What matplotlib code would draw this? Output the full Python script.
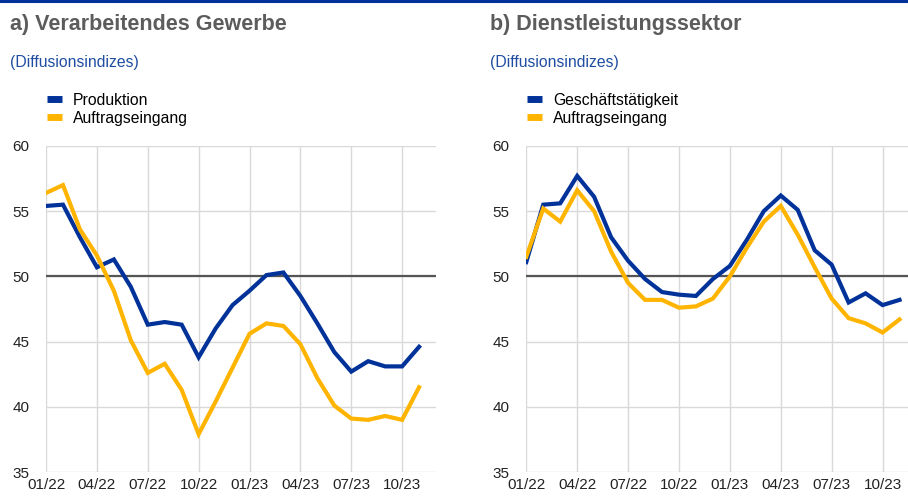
import matplotlib.pyplot as plt
from matplotlib.lines import Line2D

plt.rcParams['font.family'] = ['Liberation Sans', 'DejaVu Sans']

# monthly, 01/22 .. 11/23
months = list(range(23))
tick_pos = [0, 3, 6, 9, 12, 15, 18, 21]
tick_labels = ['01/22', '04/22', '07/22', '10/22', '01/23', '04/23', '07/23', '10/23']

mfg_output = [55.4, 55.5, 53.0, 50.7, 51.3, 49.2, 46.3, 46.5, 46.3, 43.8, 46.0, 47.8,
              48.9, 50.1, 50.3, 48.5, 46.4, 44.2, 42.7, 43.5, 43.1, 43.1, 44.6]
mfg_orders = [56.4, 57.0, 53.6, 51.6, 48.9, 45.1, 42.6, 43.3, 41.3, 37.9, 40.4, 43.0,
              45.6, 46.4, 46.2, 44.8, 42.2, 40.1, 39.1, 39.0, 39.3, 39.0, 41.5]
srv_activity = [51.1, 55.5, 55.6, 57.7, 56.1, 53.0, 51.2, 49.8, 48.8, 48.6, 48.5, 49.8,
                50.8, 52.8, 55.0, 56.2, 55.1, 52.0, 50.9, 48.0, 48.7, 47.8, 48.2]
srv_orders = [51.5, 55.2, 54.2, 56.6, 55.0, 51.9, 49.5, 48.2, 48.2, 47.6, 47.7, 48.3,
              50.0, 52.2, 54.2, 55.4, 53.2, 50.7, 48.3, 46.8, 46.4, 45.7, 46.7]

BLUE = '#003299'
YELLOW = '#ffb400'
GREY_TITLE = '#5c5c5c'
SUB_BLUE = '#1f4ea1'

fig = plt.figure(figsize=(9.08, 4.99), dpi=100)
fig.add_artist(Line2D([0, 1], [0.998, 0.998], color=BLUE, lw=2.2, transform=fig.transFigure))

panels = [
    dict(rect=[0.0507, 0.054, 0.4295, 0.6535], xmax=23, title='a) Verarbeitendes Gewerbe',
         tx=0.011, series=[(mfg_output, BLUE, 'Produktion'), (mfg_orders, YELLOW, 'Auftragseingang')]),
    dict(rect=[0.5796, 0.054, 0.4204, 0.6535], xmax=22.5, title='b) Dienstleistungssektor',
         tx=0.540, series=[(srv_activity, BLUE, 'Geschäftstätigkeit'), (srv_orders, YELLOW, 'Auftragseingang')]),
]

for p in panels:
    ax = fig.add_axes(p['rect'])
    handles = []
    for vals, col, lab in p['series']:
        h, = ax.plot(months, vals, color=col, lw=3, label=lab, solid_joinstyle='miter', zorder=3)
        handles.append(h)
    ax.axhline(50, color='#555555', lw=1.6, zorder=2)
    ax.set_xlim(0, p['xmax'])
    ax.set_ylim(35, 60)
    ax.set_yticks([35, 40, 45, 50, 55, 60])
    ax.set_xticks(tick_pos)
    ax.set_xticklabels(tick_labels)
    ax.grid(True, color='#d9d9d9', lw=1, zorder=0)
    for s in ax.spines.values():
        s.set_visible(False)
    ax.tick_params(length=0, labelsize=11, colors='#222222', pad=4)
    ax.tick_params(axis='y', pad=12)

    fig.text(p['tx'], 0.951, p['title'], fontsize=15.5, fontweight='bold', color=GREY_TITLE,
             va='center', ha='left')
    fig.text(p['tx'], 0.874, '(Diffusionsindizes)', fontsize=11.3, color=SUB_BLUE,
             va='center', ha='left')
    leg = ax.legend(handles=handles, loc='upper left', bbox_to_anchor=(0.002, 1.163),
                    frameon=False, fontsize=11.3, handlelength=0.95, handletextpad=0.7,
                    labelspacing=0.2, borderaxespad=0, borderpad=0)
    for line in leg.get_lines():
        line.set_linewidth(5)
        line.set_solid_capstyle('butt')

fig.savefig('out.png', dpi=100)
